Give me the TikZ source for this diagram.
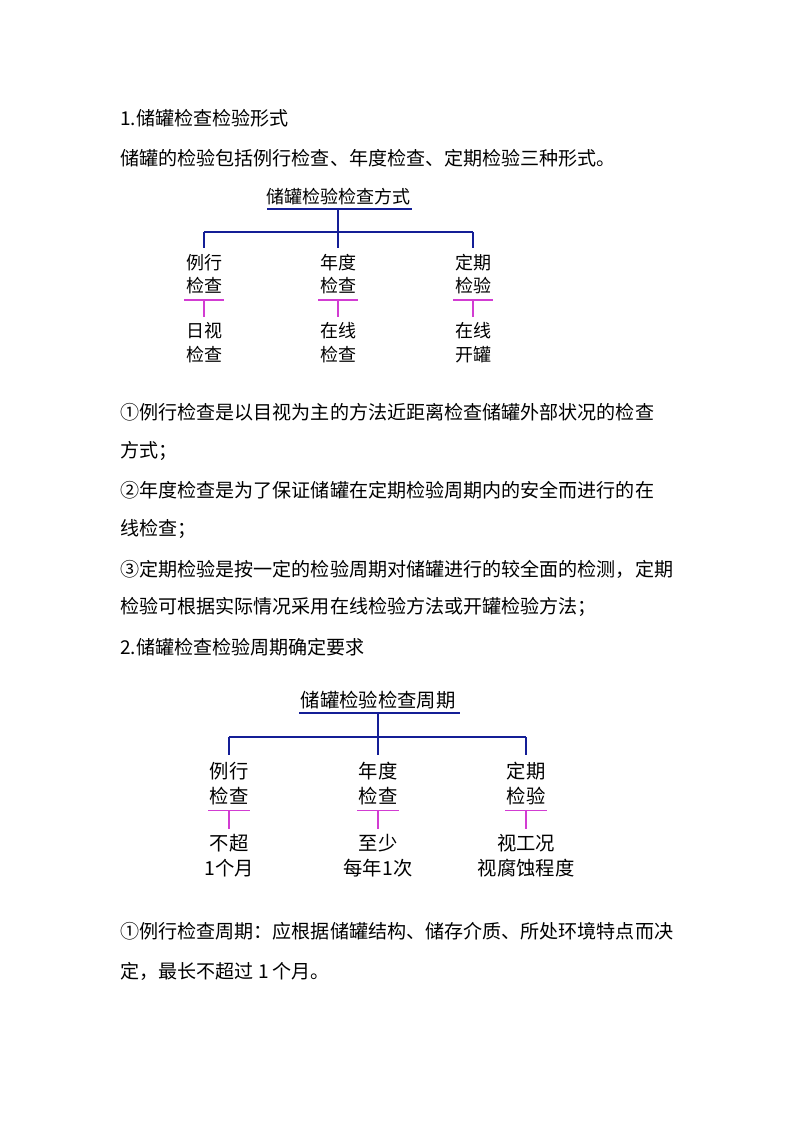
\documentclass[tikz,border=0pt]{standalone}
\usepackage{fontspec}
\setmainfont{Noto Sans CJK SC}
\usetikzlibrary{positioning}
\definecolor{treeblue}{RGB}{20,30,150}
\definecolor{treepink}{RGB}{210,60,210}
\tikzset{
  para/.style={anchor=west, font=\fontsize{14.3}{16}\selectfont, inner sep=0pt},
  lbl/.style={font=\fontsize{13.5}{15}\selectfont, inner sep=0pt, align=center},
  lblbig/.style={lbl, font=\fontsize{14.5}{16}\selectfont},
  bline/.style={treeblue, line width=1.4pt},
  pline/.style={treepink, line width=1.4pt}
}
\begin{document}
\begin{tikzpicture}[x=0.75pt, y=-0.75pt]
    \useasboundingbox (0,0) rectangle (793,1122);
    % Text above the first tree
    \node (h1) [para] at (120,118) {1.储罐检查检验形式};
    \node (p1) [para] at (120,158) {储罐的检验包括例行检查、年度检查、定期检验三种形式。};
    % First tree
    \node (t1) [lbl] at (338,197) {储罐检验检查方式};
    \coordinate (u1l) at (267,209); \coordinate (u1r) at (412,209);
    \coordinate (j1) at (338,209); \coordinate (b1) at (338,232);
    \draw [bline] (u1l) -- (u1r);
    \draw [bline] (j1) -- (b1);
    \foreach \x/\n/\a/\b/\c/\d in {204/a/例行/检查/日视/检查, 338/b/年度/检查/在线/检查, 473/c/定期/检验/在线/开罐} {
        \node (\n1) [lbl] at (\x,263) {\a};
        \node (\n2) [lbl] at (\x,286) {\b};
        \node (\n3) [lbl] at (\x,331) {\c};
        \node (\n4) [lbl] at (\x,355) {\d};
        \draw [bline] (\x,232) -- ([yshift=5pt]\n1.north);
        \draw [pline] ([xshift=-1pt,yshift=-4pt]\n2.south west) -- ([xshift=1pt,yshift=-4pt]\n2.south east);
        \draw [pline] ([yshift=-4pt]\n2.south) -- ([yshift=4pt]\n3.north);
    }
    \draw [bline] (204,232) -- (473,232);
    % Text between the trees
    \node (c1) [para] at (120,412) {①例行检查是以目视为主的方法近距离检查储罐外部状况的检查};
    \node (c1b) [para] at (120,451) {方式；};
    \node (c2) [para] at (120,490) {②年度检查是为了保证储罐在定期检验周期内的安全而进行的在};
    \node (c2b) [para] at (120,529) {线检查；};
    \node (c3) [para] at (120,569) {③定期检验是按一定的检验周期对储罐进行的较全面的检测，定期};
    \node (c3b) [para] at (120,607) {检验可根据实际情况采用在线检验方法或开罐检验方法；};
    \node (h2) [para] at (120,647) {2.储罐检查检验周期确定要求};
    % Second tree
    \node (t2) [lblbig] at (378,700) {储罐检验检查周期};
    \coordinate (u2l) at (299,713); \coordinate (u2r) at (460,713);
    \coordinate (j2) at (378,713); \coordinate (b2) at (378,737);
    \draw [bline] (u2l) -- (u2r);
    \draw [bline] (j2) -- (b2);
    \foreach \x/\n/\a/\b/\c/\d in {229/d/例行/检查/不超/1个月, 378/e/年度/检查/至少/每年1次, 526/f/定期/检验/视工况/视腐蚀程度} {
        \node (\n1) [lblbig] at (\x,771) {\a};
        \node (\n2) [lblbig] at (\x,796) {\b};
        \node (\n3) [lblbig] at (\x,843) {\c};
        \node (\n4) [lblbig] at (\x,868) {\d};
        \draw [bline] (\x,737) -- ([yshift=5pt]\n1.north);
        \draw [pline] ([xshift=-1pt,yshift=-4pt]\n2.south west) -- ([xshift=1pt,yshift=-4pt]\n2.south east);
        \draw [pline] ([yshift=-4pt]\n2.south) -- ([yshift=4pt]\n3.north);
    }
    \draw [bline] (229,737) -- (526,737);
    % Text below the second tree
    \node (d1) [para] at (120,931) {①例行检查周期：应根据储罐结构、储存介质、所处环境特点而决};
    \node (d1b) [para] at (120,971) {定，最长不超过 1 个月。};
\end{tikzpicture}
\end{document}
